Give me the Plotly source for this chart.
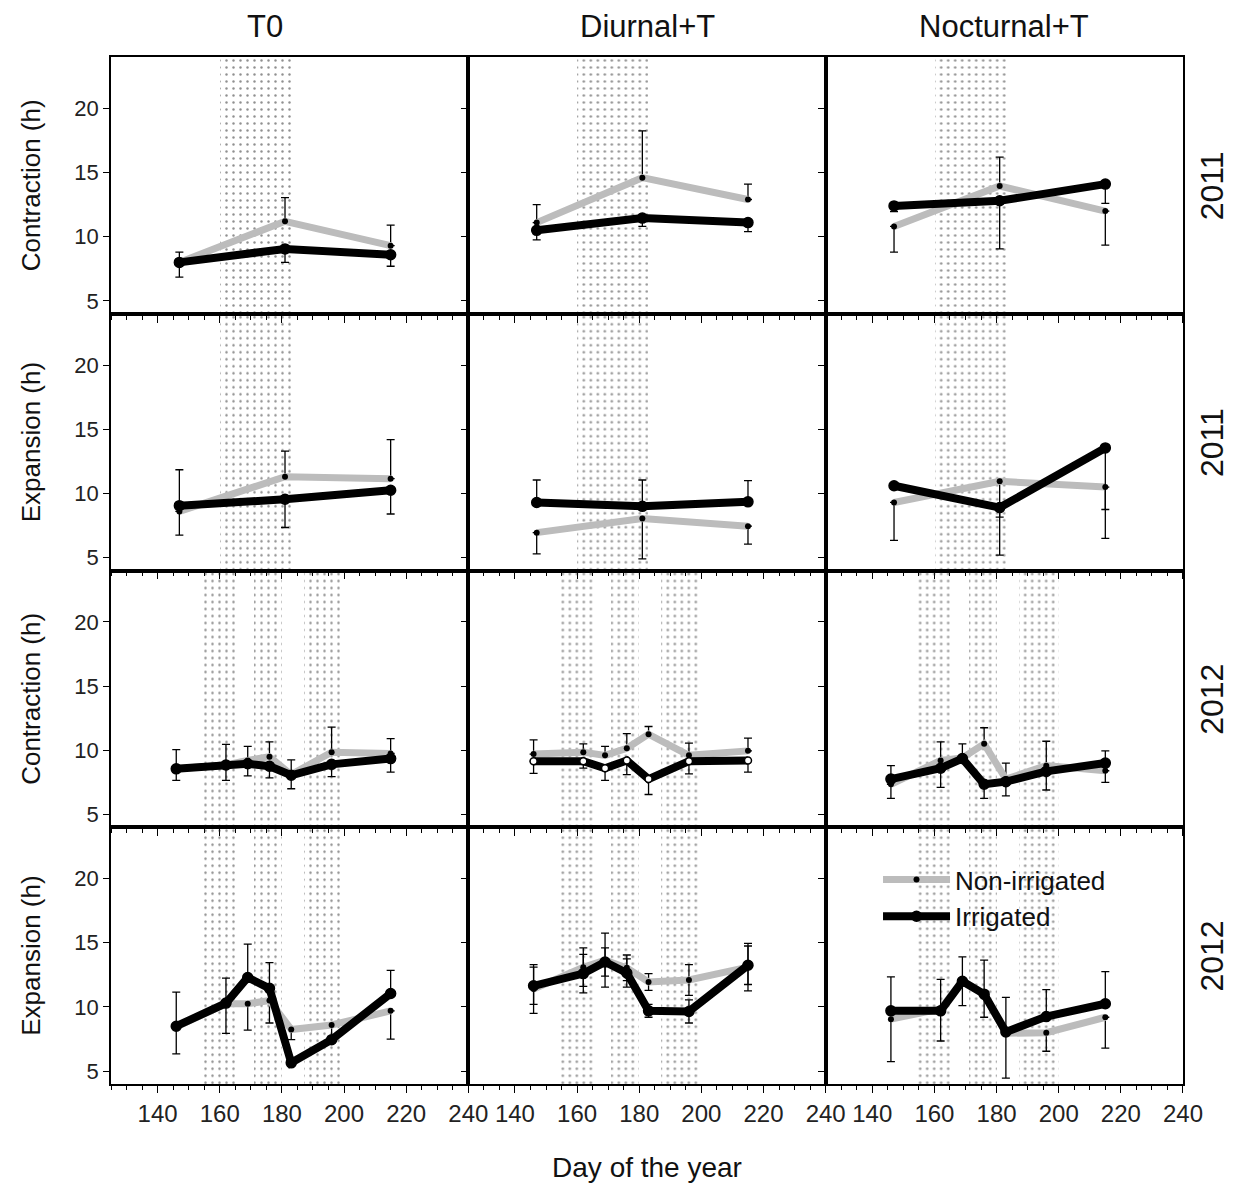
import plotly.graph_objects as go
from plotly.subplots import make_subplots

# ---------------- data ----------------
treatments = ["T0", "Diurnal+T", "Nocturnal+T"]
days_2011 = [147, 181, 215]
days_2012 = [146, 162, 169, 176, 183, 196, 215]
shade_2011 = [(160, 183)]
shade_2012 = [(154, 166), (171, 180), (187, 200)]
x_ticks = [140, 160, 180, 200, 220, 240]
y_ticks = [5, 10, 15, 20]

# Contraction 2011
con11_non = {"T0": [8.0, 11.2, 9.3], "Diurnal+T": [11.1, 14.6, 12.9], "Nocturnal+T": [10.8, 13.95, 12.0]}
con11_non_up = {"T0": [0.8, 1.85, 1.6], "Diurnal+T": [1.4, 3.65, 1.2], "Nocturnal+T": [0, 2.25, 0]}
con11_non_dn = {"T0": [0, 0, 0], "Diurnal+T": [0, 0, 0], "Nocturnal+T": [2.0, 0, 2.65]}
con11_irr = {"T0": [8.0, 9.05, 8.6], "Diurnal+T": [10.5, 11.45, 11.1], "Nocturnal+T": [12.4, 12.8, 14.1]}
con11_irr_up = {"T0": [0, 0, 0], "Diurnal+T": [0, 0, 0], "Nocturnal+T": [0, 0, 0]}
con11_irr_dn = {"T0": [1.15, 1.05, 0.9], "Diurnal+T": [0.75, 0.65, 0.7], "Nocturnal+T": [0.45, 3.75, 1.5]}

# Expansion 2011
exp11_non = {"T0": [8.6, 11.3, 11.15], "Diurnal+T": [6.95, 8.05, 7.45], "Nocturnal+T": [9.3, 10.95, 10.5]}
exp11_non_up = {"T0": [0, 2.0, 3.05], "Diurnal+T": [0, 0, 0], "Nocturnal+T": [0, 0, 0]}
exp11_non_dn = {"T0": [1.85, 0, 0], "Diurnal+T": [1.65, 3.15, 1.4], "Nocturnal+T": [2.95, 5.75, 4.0]}
exp11_irr = {"T0": [9.05, 9.55, 10.25], "Diurnal+T": [9.3, 9.0, 9.35], "Nocturnal+T": [10.6, 8.9, 13.55]}
exp11_irr_up = {"T0": [2.8, 0, 0], "Diurnal+T": [1.75, 2.05, 1.65], "Nocturnal+T": [0, 0, 0]}
exp11_irr_dn = {"T0": [0, 2.2, 1.85], "Diurnal+T": [0, 0, 0], "Nocturnal+T": [0, 0.75, 4.8]}

# Contraction 2012
con12_non = {"T0": [8.55, 8.85, 9.2, 9.5, 8.1, 9.85, 9.75],
             "Diurnal+T": [9.7, 9.85, 9.6, 10.15, 11.25, 9.6, 9.95],
             "Nocturnal+T": [7.35, 9.2, 9.4, 10.5, 7.75, 8.8, 8.4]}
con12_non_up = {"T0": [1.5, 1.6, 1.1, 1.15, 1.15, 1.95, 1.15],
                "Diurnal+T": [1.1, 0.65, 0.7, 1.15, 0.6, 0.95, 1.0],
                "Nocturnal+T": [0, 1.45, 1.1, 1.25, 1.25, 1.9, 0]}
con12_non_dn = {"T0": [0, 0, 0, 0, 0, 0, 0],
                "Diurnal+T": [0, 0, 0, 0, 0, 0, 0],
                "Nocturnal+T": [1.1, 0, 0, 0, 0, 0, 0.9]}
con12_irr = {"T0": [8.55, 8.85, 8.95, 8.75, 8.05, 8.9, 9.35],
             "Diurnal+T": [9.15, 9.15, 8.6, 9.2, 7.75, 9.15, 9.2],
             "Nocturnal+T": [7.75, 8.6, 9.35, 7.35, 7.55, 8.35, 9.0]}
con12_irr_up = {"T0": [0, 0, 0, 0, 0, 0, 0],
                "Diurnal+T": [0, 0, 0, 0, 0, 0, 0],
                "Nocturnal+T": [1.05, 0, 0, 0, 0, 0, 0.95]}
con12_irr_dn = {"T0": [0.9, 1.2, 0.95, 0.9, 1.05, 0.95, 1.05],
                "Diurnal+T": [0.95, 0.55, 0.95, 1.1, 1.2, 1.0, 0.9],
                "Nocturnal+T": [0, 1.5, 0, 1.1, 1.1, 1.45, 0]}

# Expansion 2012
exp12_non = {"T0": [8.45, 10.25, 10.25, 10.5, 8.25, 8.6, 9.7],
             "Diurnal+T": [11.4, 13.1, 13.65, 13.05, 11.95, 12.1, 13.1],
             "Nocturnal+T": [9.05, 9.85, 12.05, 11.0, 7.95, 8.0, 9.2]}
exp12_non_up = {"T0": [2.7, 2.0, 0, 0, 0, 0, 0],
                "Diurnal+T": [1.9, 1.5, 2.1, 1.0, 0.65, 1.2, 1.85],
                "Nocturnal+T": [3.3, 0, 0, 2.65, 0, 0, 0]}
exp12_non_dn = {"T0": [0, 0, 2.05, 1.75, 0.8, 0.9, 2.2],
                "Diurnal+T": [1.9, 1.5, 2.1, 1.0, 0.65, 1.2, 1.85],
                "Nocturnal+T": [3.3, 2.5, 0, 0, 3.5, 1.45, 2.4]}
exp12_irr = {"T0": [8.5, 10.3, 12.3, 11.45, 5.65, 7.45, 11.05],
             "Diurnal+T": [11.65, 12.6, 13.5, 12.65, 9.7, 9.65, 13.25],
             "Nocturnal+T": [9.7, 9.7, 12.0, 11.0, 8.05, 9.25, 10.25]}
exp12_irr_up = {"T0": [0, 0, 2.6, 2.0, 0, 0, 1.8],
                "Diurnal+T": [1.45, 1.5, 1.1, 1.1, 0.5, 0.9, 1.5],
                "Nocturnal+T": [0, 2.45, 1.9, 0, 2.7, 2.1, 2.5]}
exp12_irr_dn = {"T0": [2.15, 2.35, 0, 0, 0, 0, 0],
                "Diurnal+T": [1.45, 1.5, 1.1, 1.1, 0.5, 0.9, 1.5],
                "Nocturnal+T": [0, 0, 1.9, 1.8, 0, 0, 0]}

row_titles = ["Contraction (h)", "Expansion (h)", "Contraction (h)", "Expansion (h)"]
row_years = ["2011", "2011", "2012", "2012"]

rows = [
    (days_2011, shade_2011, con11_non, con11_non_up, con11_non_dn, con11_irr, con11_irr_up, con11_irr_dn),
    (days_2011, shade_2011, exp11_non, exp11_non_up, exp11_non_dn, exp11_irr, exp11_irr_up, exp11_irr_dn),
    (days_2012, shade_2012, con12_non, con12_non_up, con12_non_dn, con12_irr, con12_irr_up, con12_irr_dn),
    (days_2012, shade_2012, exp12_non, exp12_non_up, exp12_non_dn, exp12_irr, exp12_irr_up, exp12_irr_dn),
]

# ---------------- style ----------------
FONT = "Arial, 'Liberation Sans', sans-serif"
X_RANGE = [125, 240]
Y_RANGE = [4, 24]
GRAY = "#bcbcbc"
open_marker_panel = (3, "Diurnal+T")

fig = make_subplots(rows=4, cols=3, horizontal_spacing=0, vertical_spacing=0)

for r, (days, shades, non, non_up, non_dn, irr, irr_up, irr_dn) in enumerate(rows, start=1):
    for c, tr in enumerate(treatments, start=1):
        # dotted treatment periods
        fig.add_trace(go.Bar(
            x=[(a + b) / 2 for a, b in shades],
            width=[b - a for a, b in shades],
            y=[Y_RANGE[1] - Y_RANGE[0]] * len(shades),
            base=[Y_RANGE[0]] * len(shades),
            marker=dict(color="rgba(0,0,0,0)", line=dict(width=0),
                        pattern=dict(shape=".", fgcolor="#222222", bgcolor="rgba(0,0,0,0)",
                                     size=7, solidity=0.1)),
            hoverinfo="skip", showlegend=False,
        ), row=r, col=c)
        first = (r == 1 and c == 1)
        fig.add_trace(go.Scatter(
            x=days, y=non[tr], mode="lines+markers", name="Non-irrigated",
            legendgroup="non", showlegend=first,
            line=dict(color=GRAY, width=7),
            marker=dict(color="black", size=6),
            error_y=dict(type="data", symmetric=False, array=non_up[tr], arrayminus=non_dn[tr],
                         color="black", thickness=1.3, width=4),
        ), row=r, col=c)
        is_open = (r, tr) == open_marker_panel
        fig.add_trace(go.Scatter(
            x=days, y=irr[tr], mode="lines+markers", name="Irrigated",
            legendgroup="irr", showlegend=first,
            line=dict(color="black", width=8),
            marker=dict(color="white" if is_open else "black",
                        size=7 if is_open else 10,
                        line=dict(color="black", width=1.5)),
            error_y=dict(type="data", symmetric=False, array=irr_up[tr], arrayminus=irr_dn[tr],
                         color="black", thickness=1.3, width=4),
        ), row=r, col=c)

        fig.update_xaxes(
            range=X_RANGE, tickvals=x_ticks, ticks="outside", ticklen=7, tickwidth=1,
            tickcolor="black", showline=True, linecolor="black", linewidth=1.5, mirror=True,
            showgrid=False, zeroline=False, showticklabels=(r == 4),
            tickfont=dict(size=24, color="#222222", family=FONT),
            minor=dict(dtick=5, tick0=125, ticks="outside", ticklen=4, tickcolor="black", showgrid=False),
            row=r, col=c)
        fig.update_yaxes(
            range=Y_RANGE, tickvals=y_ticks, ticks="outside", ticklen=6, tickwidth=1,
            tickcolor="black", showline=True, linecolor="black", linewidth=1.5, mirror=True,
            showgrid=False, zeroline=False, showticklabels=(c == 1),
            tickfont=dict(size=22, color="#222222", family=FONT),
            row=r, col=c)
    fig.update_yaxes(title=dict(text=row_titles[r - 1], font=dict(size=26, family=FONT, color="#111"),
                                standoff=26), row=r, col=1)

fig.update_xaxes(title=dict(text="Day of the year", font=dict(size=28, family=FONT, color="#111"),
                            standoff=32), row=4, col=2)

# column titles and row labels
col_centers = [0.1437, 0.5, 5 / 6]
for tr, xc in zip(treatments, col_centers):
    fig.add_annotation(text=tr, x=xc, y=1.03, xref="paper", yref="paper", showarrow=False,
                       xanchor="center", yanchor="middle", font=dict(size=31, family=FONT, color="#111"))
for i, yr in enumerate(row_years):
    fig.add_annotation(text=yr, x=1.027, y=1 - (i + 0.5) / 4, xref="paper", yref="paper",
                       showarrow=False, textangle=-90, xanchor="center", yanchor="middle",
                       font=dict(size=32, family=FONT, color="#111"))

fig.update_layout(
    width=1235, height=1190,
    margin=dict(l=111, r=52, t=57, b=102),
    plot_bgcolor="white", paper_bgcolor="white",
    barmode="overlay", bargap=0,
    font=dict(family=FONT, color="#111"),
    legend=dict(x=0.7155, y=0.222, xanchor="left", yanchor="top", bgcolor="rgba(0,0,0,0)",
                font=dict(size=26, family=FONT, color="#111"), tracegroupgap=0,
                itemwidth=67),
)

fig.write_html("out.html")
